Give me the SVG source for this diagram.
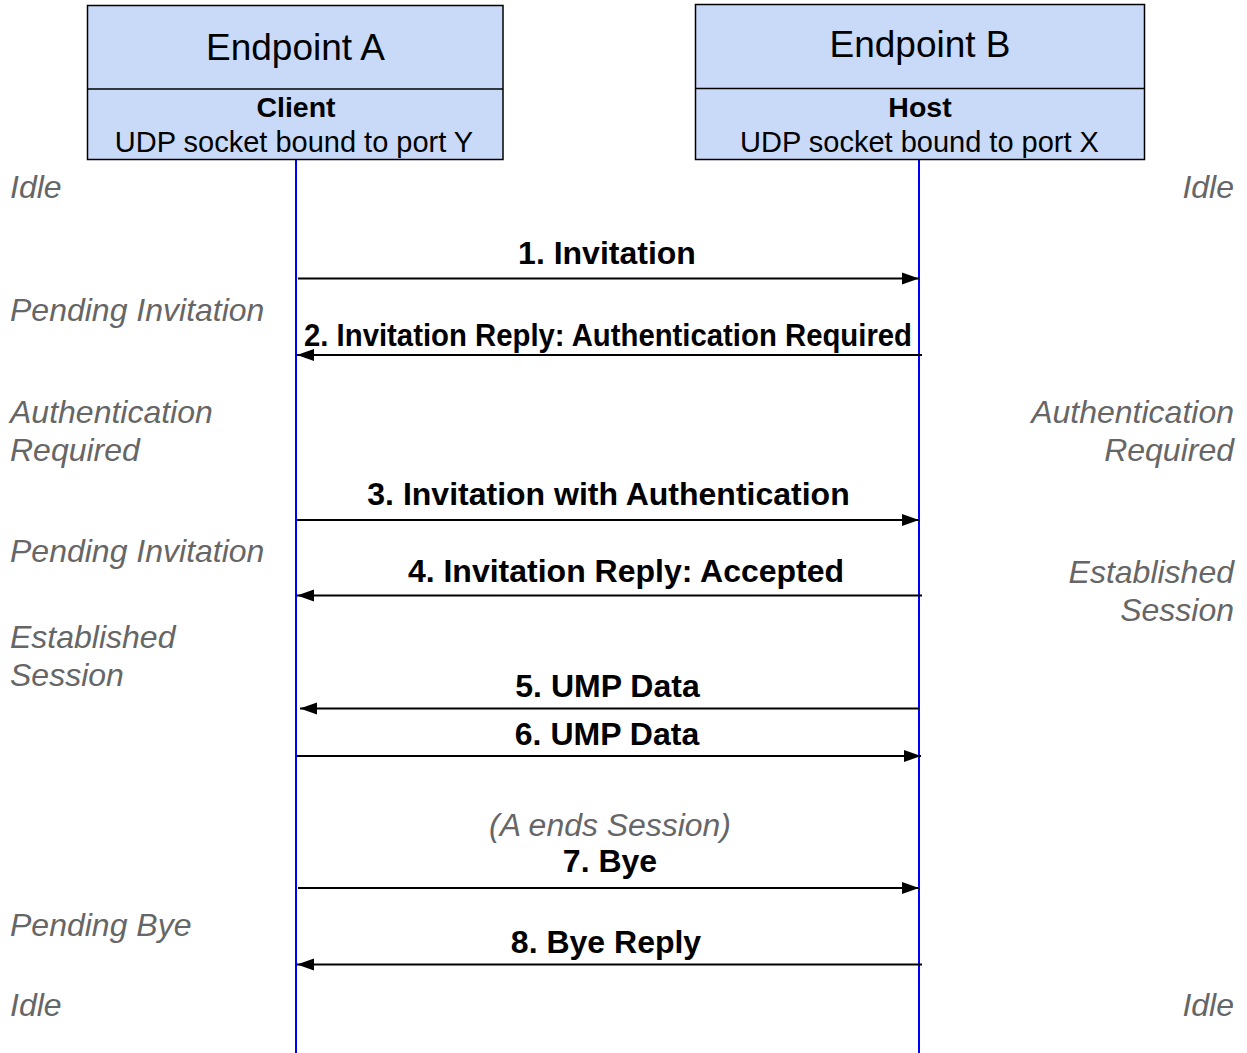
<svg xmlns="http://www.w3.org/2000/svg" width="1247" height="1053" viewBox="0 0 1247 1053">
  <style>
    .box { fill: #c9daf8; stroke: #000; stroke-width: 1.5; }
    .title { font-family: "Liberation Sans", Arial, sans-serif; font-size: 37px; fill: #000; text-anchor: middle; }
    .role { font-family: "Liberation Sans", Arial, sans-serif; font-size: 28.5px; font-weight: bold; fill: #000; text-anchor: middle; }
    .sock { font-family: "Liberation Sans", Arial, sans-serif; font-size: 29px; fill: #000; text-anchor: middle; }
    .life { stroke: #0000ff; stroke-width: 2; fill: none; }
    .msg { stroke: #000; stroke-width: 2; fill: none; marker-end: url(#arrow); }
    .label { font-family: "Liberation Sans", Arial, sans-serif; font-size: 32px; font-weight: bold; fill: #000; text-anchor: middle; }
    .state { font-family: "Liberation Sans", Arial, sans-serif; font-size: 32px; font-style: italic; fill: #666; }
    .right { text-anchor: end; }
    .note { font-family: "Liberation Sans", Arial, sans-serif; font-size: 31px; font-style: italic; fill: #666; text-anchor: middle; }
  </style>
  <defs>
    <marker id="arrow" markerUnits="userSpaceOnUse" markerWidth="18" markerHeight="14" refX="17" refY="7" orient="auto">
      <path d="M0,1 L17,7 L0,13 z" fill="#000"/>
    </marker>
  </defs>

  <rect width="1247" height="1053" fill="#fff"/>

  <!-- lifelines -->
  <g id="lifelines">
    <line class="life" x1="296" y1="160" x2="296" y2="1053"/>
    <line class="life" x1="919" y1="160" x2="919" y2="1053"/>
  </g>

  <!-- Endpoint A -->
  <g id="endpoint-a">
    <rect class="box" x="87.5" y="5.5" width="415.5" height="154"/>
    <line x1="87.5" y1="89" x2="503" y2="89" stroke="#000" stroke-width="1.5"/>
    <text class="title" x="295.5" y="60">Endpoint A</text>
    <text class="role" x="296" y="117">Client</text>
    <text class="sock" x="294" y="152">UDP socket bound to port Y</text>
  </g>

  <!-- Endpoint B -->
  <g id="endpoint-b">
    <rect class="box" x="695.5" y="4.5" width="449" height="155"/>
    <line x1="695.5" y1="88.5" x2="1144.5" y2="88.5" stroke="#000" stroke-width="1.5"/>
    <text class="title" x="920" y="57">Endpoint B</text>
    <text class="role" x="920" y="117">Host</text>
    <text class="sock" x="919.5" y="152">UDP socket bound to port X</text>
  </g>

  <!-- messages -->
  <g id="connectors">
    <line class="msg" x1="298" y1="278.5" x2="919" y2="278.5"/>
    <line class="msg" x1="922" y1="355" x2="297" y2="355"/>
    <line class="msg" x1="297" y1="520" x2="919" y2="520"/>
    <line class="msg" x1="922" y1="595.5" x2="297" y2="595.5"/>
    <line class="msg" x1="919" y1="708.5" x2="300" y2="708.5"/>
    <line class="msg" x1="297" y1="756" x2="921" y2="756"/>
    <line class="msg" x1="298" y1="888" x2="919" y2="888"/>
    <line class="msg" x1="922" y1="964.5" x2="297" y2="964.5"/>
  </g>

  <!-- message labels -->
  <g id="labels">
    <text class="label" x="607" y="264">1. Invitation</text>
    <text class="label" x="608" y="346" textLength="608" lengthAdjust="spacingAndGlyphs">2. Invitation Reply: Authentication Required</text>
    <text class="label" x="608.5" y="505">3. Invitation with Authentication</text>
    <text class="label" x="626" y="582">4. Invitation Reply: Accepted</text>
    <text class="label" x="607.5" y="697">5. UMP Data</text>
    <text class="label" x="607" y="745">6. UMP Data</text>
    <text class="note" x="610" y="836" textLength="242" lengthAdjust="spacingAndGlyphs">(A ends Session)</text>
    <text class="label" x="610" y="872">7. Bye</text>
    <text class="label" x="606" y="953">8. Bye Reply</text>
  </g>

  <!-- states of endpoint A -->
  <g id="states-a">
    <text class="state" x="10" y="198">Idle</text>
    <text class="state" x="10" y="321">Pending Invitation</text>
    <text class="state" x="10" y="423">Authentication</text>
    <text class="state" x="10" y="461">Required</text>
    <text class="state" x="10" y="562">Pending Invitation</text>
    <text class="state" x="10" y="648">Established</text>
    <text class="state" x="10" y="686">Session</text>
    <text class="state" x="10" y="936">Pending Bye</text>
    <text class="state" x="10" y="1016">Idle</text>
  </g>

  <!-- states of endpoint B -->
  <g id="states-b">
    <text class="state right" x="1234" y="198">Idle</text>
    <text class="state right" x="1234" y="423">Authentication</text>
    <text class="state right" x="1234" y="461">Required</text>
    <text class="state right" x="1234" y="583">Established</text>
    <text class="state right" x="1234" y="621">Session</text>
    <text class="state right" x="1234" y="1016">Idle</text>
  </g>
</svg>
